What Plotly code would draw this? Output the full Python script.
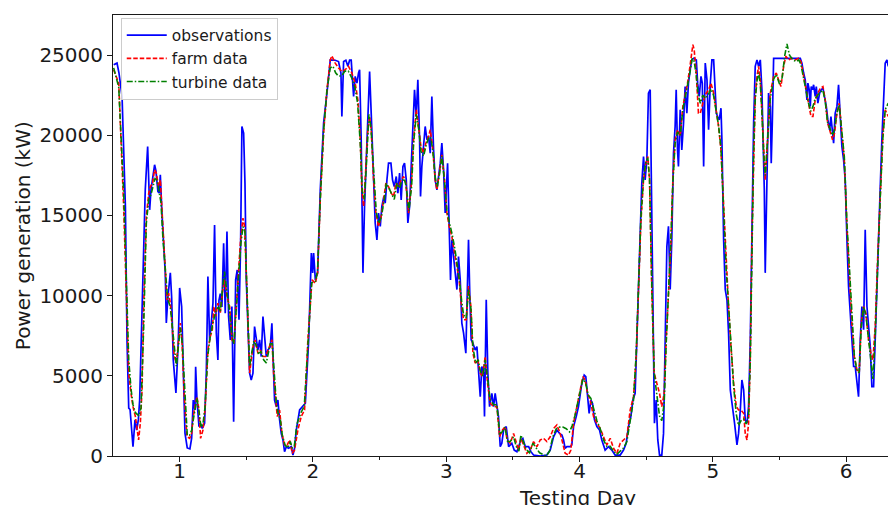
import plotly.graph_objects as go

# ---------------- data ----------------
obs_x = [0.505, 0.53, 0.545, 0.568, 0.593, 0.605, 0.618, 0.628, 0.650, 0.665, 0.678, 0.69, 0.70, 0.73, 0.742,
         0.76, 0.775, 0.785, 0.80, 0.812, 0.822, 0.837, 0.847, 0.855, 0.867, 0.88, 0.892, 0.90, 0.912, 0.93,
         0.94, 0.952, 0.972, 0.99, 1.0, 1.015, 1.027, 1.04, 1.057, 1.077, 1.09, 1.102, 1.115, 1.12, 1.13,
         1.145, 1.155, 1.17, 1.187, 1.2, 1.212, 1.225, 1.237, 1.25, 1.262, 1.275, 1.287, 1.295, 1.305, 1.317,
         1.33, 1.342, 1.355, 1.367, 1.38, 1.392, 1.405, 1.42, 1.432, 1.445, 1.457, 1.467, 1.48, 1.49, 1.5,
         1.512, 1.525, 1.537, 1.55, 1.562, 1.575, 1.587, 1.6, 1.612, 1.625, 1.637, 1.65, 1.662, 1.68, 1.692,
         1.7, 1.712, 1.725, 1.737, 1.75, 1.762, 1.775, 1.787, 1.80, 1.817, 1.837, 1.85, 1.862, 1.875, 1.9,
         1.925, 1.943, 1.968, 1.988, 1.998, 2.005, 2.018, 2.035, 2.055, 2.08, 2.105, 2.13, 2.167, 2.192, 2.21,
         2.217, 2.23, 2.247, 2.262, 2.275, 2.287, 2.305, 2.317, 2.33, 2.342, 2.35, 2.362, 2.375, 2.387, 2.405,
         2.425, 2.437, 2.45, 2.467, 2.48, 2.492, 2.505, 2.517, 2.532, 2.542, 2.555, 2.567, 2.585, 2.597, 2.61,
         2.625, 2.637, 2.65, 2.662, 2.675, 2.687, 2.7, 2.712, 2.725, 2.737, 2.75, 2.762, 2.775, 2.787, 2.8,
         2.807, 2.817, 2.83, 2.842, 2.855, 2.867, 2.88, 2.892, 2.905, 2.917, 2.93, 2.942, 2.955, 2.967, 2.98,
         2.992, 3.01, 3.022, 3.032, 3.042, 3.055, 3.067, 3.08, 3.092, 3.105, 3.117, 3.13, 3.147, 3.16, 3.167,
         3.177, 3.187, 3.2, 3.217, 3.23, 3.242, 3.255, 3.267, 3.28, 3.287, 3.3, 3.312, 3.325, 3.342, 3.355,
         3.367, 3.38, 3.392, 3.405, 3.417, 3.43, 3.45, 3.468, 3.492, 3.51, 3.53, 3.543, 3.56, 3.575, 3.593,
         3.618, 3.635, 3.655, 3.705, 3.755, 3.78, 3.805, 3.83, 3.85, 3.868, 3.88, 3.892, 3.905, 3.93, 3.942,
         3.955, 3.975, 3.992, 4.017, 4.035, 4.047, 4.06, 4.072, 4.085, 4.097, 4.112, 4.13, 4.15, 4.167, 4.192,
         4.217, 4.242, 4.267, 4.305, 4.33, 4.35, 4.367, 4.385, 4.4, 4.417, 4.43, 4.442, 4.455, 4.467, 4.48,
         4.492, 4.505, 4.517, 4.53, 4.542, 4.555, 4.562, 4.575, 4.587, 4.6, 4.617, 4.63, 4.642, 4.655, 4.667,
         4.68, 4.692, 4.705, 4.717, 4.725, 4.735, 4.742, 4.755, 4.767, 4.78, 4.792, 4.805, 4.817, 4.83, 4.842,
         4.856, 4.876, 4.886, 4.898, 4.911, 4.921, 4.931, 4.943, 4.956, 4.968, 4.981, 4.993, 5.006, 5.013, 5.026,
         5.036, 5.048, 5.061, 5.068, 5.081, 5.093, 5.106, 5.118, 5.131, 5.148, 5.163, 5.181, 5.193, 5.206, 5.218,
         5.231, 5.243, 5.256, 5.268, 5.281, 5.293, 5.306, 5.318, 5.331, 5.343, 5.356, 5.368, 5.376, 5.386, 5.393,
         5.406, 5.418, 5.431, 5.438, 5.446, 5.456, 5.656, 5.668, 5.681, 5.693, 5.706, 5.713, 5.723, 5.731, 5.738,
         5.748, 5.756, 5.768, 5.776, 5.788, 5.801, 5.813, 5.826, 5.838, 5.851, 5.863, 5.876, 5.886, 5.898, 5.906,
         5.918, 5.931, 5.943, 5.956, 5.968, 5.981, 5.993, 6.006, 6.018, 6.031, 6.043, 6.056, 6.068, 6.081, 6.093,
         6.106, 6.118, 6.131, 6.143, 6.156, 6.168, 6.181, 6.193, 6.206, 6.218, 6.231, 6.243, 6.256, 6.268, 6.281,
         6.293, 6.306, 6.316]
obs_y = [24400, 24500, 23880, 22420, 15560, 7240, 2990, 2900, 580, 2250, 1620, 2250, 3490, 13480, 16600,
         19300, 15350, 16600, 17430, 18160, 17800, 16490, 16400, 17530, 15160, 12660, 11420, 8300, 9920, 11420,
         9900, 5990, 3930, 7240, 10480, 9320, 5170, 1430, 500, 440, 1120, 3490, 2870, 5570, 3490,
         1830, 2040, 1720, 2040, 5170, 11190, 7240, 8280, 9530, 14410, 7660, 5990, 9700, 10120, 9300,
         13270, 8900, 14000, 8700, 7240, 9320, 2140, 10980, 11600, 8500, 13060, 20550, 20130, 17030, 10980,
         7660, 5170, 4740, 5170, 8070, 7240, 6610, 7240, 6200, 8700, 7450, 6200, 6610, 6820, 8280,
         5990, 3490, 3080, 3490, 2250, 1410, 1000, 270, 580, 480, 580, 60, 480, 1620, 2870,
         3080, 3290, 7240, 12660, 11420, 12660, 10980, 11420, 16600, 20760, 22620, 24700, 24680, 24600, 23880,
         21170, 24600, 24680, 24300, 24680, 24680, 22420, 23670, 23250, 23880, 24090, 19720, 11420, 15560, 19720,
         23980, 21380, 18050, 14530, 13480, 15150, 14320, 15560, 16180, 15770, 17220, 18260, 18260, 17220, 16800,
         17430, 16390, 17640, 15970, 18050, 18260, 17220, 14530, 15560, 18050, 20140, 22840, 21170, 23460, 19720,
         16180, 18050, 19720, 20550, 19720, 19930, 18880, 22420, 19090, 17220, 16600, 17430, 18260, 19510, 17840,
         15150, 18260, 14320, 10980, 13480, 12440, 11420, 10380, 12440, 10980, 8290, 7660, 6410, 10980, 13480,
         9960, 7240, 7030, 6610, 6820, 5580, 3700, 5580, 5170, 2460, 9740, 5170, 3080, 3910, 3080,
         3910, 3290, 2460, 580, 790, 1620, 1830, 580, 790, 370, 270, 580, 1000, 1100, 580,
         580, 270, 60, 0, 60, 370, 1200, 1620, 1410, 1310, 1000, 480, 580, 580, 690,
         1830, 2460, 3080, 4530, 5050, 4950, 3910, 2660, 3490, 3290, 2250, 1830, 1620, 1000, 370,
         580, 370, 60, 60, 370, 790, 1830, 2460, 3490, 3910, 7240, 11420, 14930, 17010, 18680,
         17220, 18470, 22630, 22840, 15560, 5170, 2040, 3490, 1000, 60, 60, 1410, 7240, 13060, 14320,
         10380, 13480, 18890, 20550, 22840, 19090, 18050, 21590, 19090, 20760, 23040, 21380, 23250, 24090, 24700,
         24800, 24700, 23250, 22420, 23670, 23250, 18050, 24500, 23460, 20340, 23250, 24700, 24700, 23460, 21380,
         21170, 20960, 21690, 19720, 13480, 10380, 9740, 7660, 4120, 3080, 2040, 690, 1410, 2870, 4740,
         4120, 2250, 2040, 3080, 7240, 15560, 20760, 24300, 24700, 24300, 24700, 22840, 19720, 16600, 11420,
         17640, 22630, 21800, 18260, 20760, 24800, 24800, 24500, 23880, 23460, 22210, 23250, 22840, 21800, 23040,
         22840, 23150, 22420, 23040, 22000, 22630, 22840, 22940, 22420, 21800, 20960, 20340, 21170, 20130, 19510,
         21380, 21800, 23150, 20760, 19300, 18470, 17220, 13480, 10590, 8910, 7240, 5580, 5580, 4740, 3700,
         7240, 9320, 7870, 14110, 9320, 8290, 6820, 4320, 4320, 7240, 10980, 14320, 16800, 19720, 22840,
         24500, 24700, 24300]

farm_x = [0.505, 0.543, 0.58, 0.60, 0.618, 0.635, 0.65, 0.668, 0.68, 0.692, 0.705, 0.718, 0.73, 0.75, 0.768,
          0.78, 0.797, 0.812, 0.825, 0.842, 0.855, 0.867, 0.88, 0.892, 0.905, 0.917, 0.93, 0.942, 0.96, 0.975,
          0.992, 1.005, 1.017, 1.035, 1.055, 1.075, 1.09, 1.102, 1.115, 1.13, 1.145, 1.157, 1.175, 1.192, 1.212,
          1.23, 1.245, 1.257, 1.27, 1.287, 1.305, 1.32, 1.337, 1.355, 1.375, 1.392, 1.407, 1.425, 1.445, 1.457,
          1.475, 1.487, 1.5, 1.512, 1.525, 1.537, 1.55, 1.567, 1.587, 1.605, 1.625, 1.645, 1.662, 1.68, 1.692,
          1.705, 1.72, 1.732, 1.75, 1.767, 1.787, 1.807, 1.825, 1.845, 1.862, 1.887, 1.912, 1.937, 1.962, 1.993,
          2.018, 2.035, 2.055, 2.08, 2.105, 2.13, 2.142, 2.167, 2.192, 2.217, 2.242, 2.267, 2.292, 2.317, 2.337,
          2.355, 2.367, 2.38, 2.392, 2.41, 2.425, 2.437, 2.455, 2.472, 2.492, 2.512, 2.53, 2.547, 2.567, 2.587,
          2.605, 2.622, 2.642, 2.662, 2.68, 2.697, 2.717, 2.737, 2.755, 2.775, 2.792, 2.81, 2.83, 2.847, 2.867,
          2.88, 2.897, 2.917, 2.93, 2.95, 2.967, 2.987, 3.005, 3.022, 3.042, 3.062, 3.082, 3.097, 3.112, 3.13,
          3.15, 3.167, 3.185, 3.2, 3.217, 3.237, 3.255, 3.272, 3.292, 3.31, 3.33, 3.355, 3.38, 3.4, 3.422,
          3.442, 3.456, 3.48, 3.505, 3.525, 3.543, 3.56, 3.58, 3.605, 3.63, 3.655, 3.68, 3.705, 3.73, 3.755,
          3.78, 3.805, 3.83, 3.85, 3.868, 3.892, 3.917, 3.935, 3.955, 3.98, 4.005, 4.025, 4.042, 4.06, 4.08,
          4.105, 4.13, 4.155, 4.18, 4.205, 4.23, 4.255, 4.28, 4.305, 4.33, 4.355, 4.38, 4.405, 4.425, 4.442,
          4.46, 4.48, 4.497, 4.512, 4.525, 4.542, 4.56, 4.58, 4.6, 4.617, 4.635, 4.65, 4.667, 4.685, 4.7,
          4.717, 4.735, 4.755, 4.775, 4.792, 4.81, 4.825, 4.842, 4.85, 4.86, 4.875, 4.892, 4.906, 4.925, 4.943,
          4.968, 4.986, 5.006, 5.026, 5.043, 5.061, 5.081, 5.101, 5.118, 5.136, 5.156, 5.176, 5.193, 5.211, 5.231,
          5.243, 5.256, 5.268, 5.281, 5.293, 5.306, 5.318, 5.331, 5.343, 5.356, 5.368, 5.381, 5.393, 5.411, 5.431,
          5.456, 5.476, 5.493, 5.511, 5.531, 5.548, 5.568, 5.593, 5.618, 5.643, 5.661, 5.681, 5.701, 5.718, 5.736,
          5.751, 5.768, 5.788, 5.806, 5.826, 5.843, 5.861, 5.881, 5.898, 5.913, 5.931, 5.948, 5.968, 5.986, 6.006,
          6.026, 6.043, 6.061, 6.081, 6.098, 6.113, 6.131, 6.148, 6.168, 6.186, 6.201, 6.218, 6.236, 6.256, 6.276,
          6.293, 6.316]
farm_y = [24090, 23250, 15560, 9320, 5170, 3910, 3080, 2460, 1830, 1000, 2040, 4120, 9320, 14930, 16390,
          16800, 17010, 17840, 17640, 16800, 17220, 15560, 13060, 11420, 9740, 10150, 9530, 8290, 6200, 5790,
          7240, 8290, 7240, 3700, 1200, 1100, 1410, 2460, 3080, 3700, 2870, 1100, 1620, 3080, 6610,
          7450, 7870, 9320, 8700, 9530, 8910, 10150, 10980, 9950, 9320, 7240, 7030, 9320, 11420, 13480,
          14830, 14320, 11420, 7660, 5170, 5990, 6820, 7240, 6410, 6610, 6200, 6200, 6610, 7030, 7240,
          5170, 3490, 2460, 2870, 1410, 690, 690, 1000, 170, 370, 1620, 2460, 2870, 7240, 10980,
          10770, 11420, 15970, 20130, 22840, 24700, 24950, 24500, 24200, 23980, 24090, 24300, 23880, 23250, 22210,
          19720, 16600, 15560, 17220, 20130, 21170, 20340, 17220, 15150, 14320, 14930, 15970, 17010, 16800, 16390,
          16180, 17010, 16800, 17220, 17430, 17010, 15150, 16800, 19720, 21590, 20550, 19300, 18880, 19510, 19930,
          20340, 19300, 17220, 16600, 17840, 18780, 17220, 15150, 14320, 13690, 12660, 11830, 10980, 9530, 8500,
          8500, 10590, 9320, 6410, 5790, 5990, 5170, 4950, 6200, 4530, 3290, 3080, 3080, 1200, 1620,
          1830, 1000, 790, 1410, 790, 370, 1100, 690, 170, 370, 900, 580, 1000, 1100, 900,
          1200, 1720, 1930, 1520, 1000, 170, 60, 370, 2040, 3080, 4120, 4950, 4740, 3910, 3490,
          2460, 2040, 1720, 1200, 690, 1100, 480, 170, 790, 1000, 1200, 2870, 3700, 6200, 10380,
          14530, 17220, 18260, 18680, 17220, 10380, 5170, 4530, 3910, 3080, 3910, 7240, 9950, 13060, 17220,
          19720, 20340, 19930, 21800, 22420, 23250, 24090, 25340, 25650, 25340, 23880, 21380, 21380, 22000, 22530,
          22840, 23250, 22630, 21590, 20550, 19090, 15560, 11420, 9320, 6820, 4530, 3080, 2870, 2870, 2660,
          1410, 1000, 2040, 6200, 13480, 19090, 22420, 23670, 24300, 23460, 21800, 19300, 17220, 19930, 22630,
          23670, 23880, 23460, 23040, 24300, 24930, 24700, 24800, 24700, 24800, 24600, 23670, 22630, 21800, 21170,
          21170, 22210, 22630, 22940, 23040, 22210, 20760, 20130, 19720, 20130, 21380, 22000, 20130, 18470, 14320,
          10980, 8290, 6200, 5370, 5170, 8290, 9320, 8910, 7240, 6410, 5990, 8080, 12240, 16390, 20130,
          21590, 21170]

turb_x = [0.505, 0.543, 0.58, 0.60, 0.618, 0.635, 0.65, 0.668, 0.68, 0.695, 0.71, 0.73, 0.75, 0.768, 0.785,
          0.80, 0.815, 0.83, 0.845, 0.86, 0.875, 0.892, 0.91, 0.93, 0.945, 0.96, 0.975, 0.99, 1.005, 1.02,
          1.04, 1.057, 1.075, 1.09, 1.105, 1.12, 1.13, 1.145, 1.16, 1.175, 1.19, 1.21, 1.23, 1.25, 1.27,
          1.29, 1.305, 1.32, 1.337, 1.355, 1.375, 1.392, 1.407, 1.425, 1.445, 1.46, 1.475, 1.49, 1.5, 1.512,
          1.525, 1.54, 1.555, 1.57, 1.59, 1.61, 1.63, 1.65, 1.665, 1.68, 1.695, 1.71, 1.725, 1.74, 1.755,
          1.77, 1.79, 1.81, 1.83, 1.845, 1.86, 1.88, 1.91, 1.935, 1.96, 1.99, 2.02, 2.035, 2.055, 2.08,
          2.105, 2.13, 2.15, 2.17, 2.19, 2.215, 2.24, 2.265, 2.29, 2.315, 2.335, 2.355, 2.37, 2.385, 2.4,
          2.42, 2.435, 2.455, 2.475, 2.495, 2.515, 2.535, 2.55, 2.57, 2.59, 2.61, 2.63, 2.65, 2.665, 2.685,
          2.7, 2.72, 2.74, 2.755, 2.775, 2.795, 2.81, 2.83, 2.85, 2.87, 2.885, 2.9, 2.917, 2.932, 2.95,
          2.967, 2.985, 3.005, 3.022, 3.045, 3.065, 3.085, 3.1, 3.115, 3.13, 3.15, 3.168, 3.185, 3.2, 3.22,
          3.24, 3.255, 3.275, 3.292, 3.31, 3.33, 3.355, 3.38, 3.4, 3.42, 3.44, 3.46, 3.48, 3.505, 3.525,
          3.545, 3.56, 3.58, 3.6, 3.625, 3.65, 3.675, 3.7, 3.725, 3.75, 3.775, 3.8, 3.825, 3.85, 3.875,
          3.9, 3.925, 3.945, 3.965, 3.985, 4.005, 4.025, 4.045, 4.065, 4.085, 4.105, 4.13, 4.155, 4.18, 4.205,
          4.23, 4.255, 4.28, 4.305, 4.33, 4.355, 4.38, 4.405, 4.425, 4.442, 4.46, 4.48, 4.497, 4.512, 4.525,
          4.542, 4.56, 4.58, 4.6, 4.617, 4.635, 4.65, 4.667, 4.685, 4.7, 4.717, 4.735, 4.755, 4.775, 4.792,
          4.81, 4.83, 4.845, 4.86, 4.875, 4.89, 4.906, 4.925, 4.943, 4.965, 4.985, 5.005, 5.025, 5.043, 5.061,
          5.081, 5.1, 5.118, 5.136, 5.156, 5.176, 5.193, 5.211, 5.231, 5.25, 5.268, 5.281, 5.293, 5.306, 5.318,
          5.331, 5.343, 5.356, 5.368, 5.381, 5.393, 5.411, 5.431, 5.456, 5.476, 5.5, 5.52, 5.54, 5.556, 5.575,
          5.6, 5.625, 5.645, 5.661, 5.681, 5.701, 5.718, 5.736, 5.751, 5.768, 5.788, 5.806, 5.826, 5.843, 5.861,
          5.881, 5.898, 5.913, 5.931, 5.948, 5.968, 5.986, 6.006, 6.026, 6.043, 6.061, 6.081, 6.098, 6.113, 6.131,
          6.148, 6.168, 6.186, 6.201, 6.218, 6.236, 6.256, 6.276, 6.293, 6.316]
turb_y = [24200, 23000, 16500, 10500, 6000, 4200, 3200, 2700, 2600, 2500, 3000, 8000, 14500, 16000, 16300,
          16800, 17300, 17200, 16500, 15800, 13500, 11500, 9800, 9300, 8000, 6500, 5600, 6800, 8000, 7000,
          3500, 1300, 1300, 1600, 2400, 3300, 3600, 2800, 1800, 2000, 3000, 6200, 7500, 8300, 9000,
          9300, 9000, 10300, 11500, 10200, 9000, 7500, 7000, 9200, 11500, 13300, 14300, 14000, 11500, 7900,
          5600, 6400, 7100, 7000, 6400, 6500, 6000, 5800, 6500, 7000, 7000, 5000, 3300, 2600, 2300,
          1300, 700, 500, 900, 500, 600, 2000, 2700, 3100, 7000, 10800, 10900, 11600, 16000, 20300,
          22800, 24200, 24300, 23900, 23700, 23700, 24000, 24000, 23600, 23000, 22000, 19500, 16500, 16000, 18000,
          21300, 20500, 17500, 15200, 14500, 15000, 16000, 17000, 16700, 16300, 16000, 17000, 16700, 17100, 17300,
          16800, 15300, 16800, 19500, 21300, 20300, 19000, 18700, 19400, 19900, 19800, 19000, 17400, 16800, 17600,
          18700, 17300, 15300, 14600, 13800, 12900, 11800, 10900, 9700, 8800, 8600, 10400, 9200, 6800, 5800,
          6000, 5300, 5000, 6000, 4700, 3500, 3200, 3200, 1400, 1500, 1800, 900, 900, 1200, 600,
          300, 1300, 900, 400, 200, 800, 500, 200, 100, 0, 300, 1200, 1700, 1800, 1800,
          1700, 1500, 1900, 2500, 3300, 4200, 4800, 4600, 3800, 3600, 3000, 2200, 1700, 1000, 600,
          600, 300, 100, 300, 500, 900, 2300, 3500, 6400, 10800, 14800, 17400, 18300, 18600, 17300,
          10700, 5200, 3800, 2500, 2200, 3300, 7000, 10000, 13500, 17000, 19500, 20200, 20000, 21600, 22300,
          23100, 24000, 24800, 24600, 23800, 22500, 22000, 22500, 22300, 22500, 22900, 22500, 21500, 20600, 19200,
          15600, 11600, 9400, 6900, 4300, 2600, 1900, 2200, 2300, 2000, 2500, 6000, 13000, 19000, 22200,
          23400, 23900, 23200, 21500, 18800, 17500, 19500, 22300, 23500, 23800, 23200, 23600, 25000, 25700, 25000,
          24700, 24600, 24700, 24400, 23500, 22600, 22000, 21500, 21800, 22300, 22500, 22700, 22800, 22100, 20800,
          20300, 20000, 20400, 21400, 21900, 20300, 18700, 14500, 11200, 8600, 6300, 5300, 5200, 8000, 9300,
          8800, 7200, 5800, 4800, 7500, 11800, 16200, 19900, 21600, 22000]

series_names = ["observations", "farm data", "turbine data"]
y_tick_vals = [0, 5000, 10000, 15000, 20000, 25000]
x_tick_vals = [1, 2, 3, 4, 5, 6]
x_minor_vals = [1.5, 2.5, 3.5, 4.5, 5.5]
x_label = "Testing Day"
y_label = "Power generation (kW)"

# ---------------- figure ----------------
FONT = "DejaVu Sans"
INK = "#1a1a1a"
fig = go.Figure()
fig.add_trace(go.Scatter(x=obs_x, y=obs_y, mode="lines", name=series_names[0],
                         line=dict(color="#0000ff", width=1.7)))
fig.add_trace(go.Scatter(x=farm_x, y=farm_y, mode="lines", name=series_names[1],
                         line=dict(color="#ff0000", width=1.6, dash="4.5px,2px")))
fig.add_trace(go.Scatter(x=turb_x, y=turb_y, mode="lines", name=series_names[2],
                         line=dict(color="#008000", width=1.6, dash="6px,2px,1.5px,2px")))

fig.update_layout(
    width=888, height=505,
    margin=dict(l=113, r=0, t=15, b=49),
    paper_bgcolor="white", plot_bgcolor="white",
    font=dict(family=FONT, size=20, color=INK),
    showlegend=True,
    legend=dict(x=0.010, y=0.994, xanchor="left", yanchor="top",
                bgcolor="rgba(255,255,255,0.85)", bordercolor="#cccccc", borderwidth=1,
                font=dict(family=FONT, size=15.5, color=INK),
                tracegroupgap=0, itemwidth=40),
    xaxis=dict(range=[0.5, 6.314], tickmode="array", tickvals=x_tick_vals,
               ticks="outside", ticklen=5, tickwidth=1, tickcolor=INK,
               ticklabelstandoff=-8,
               showline=True, linecolor=INK, linewidth=1, mirror=True,
               showgrid=False, zeroline=False,
               tickfont=dict(family=FONT, size=20, color=INK),
               minor=dict(tickmode="array", tickvals=x_minor_vals,
                          ticks="outside", ticklen=3, tickwidth=0.8, tickcolor=INK)),
    yaxis=dict(range=[0, 27500], tickmode="array", tickvals=y_tick_vals, tickformat="d",
               ticks="outside", ticklen=5, tickwidth=1, tickcolor=INK,
               showline=True, linecolor=INK, linewidth=1,
               showgrid=False, zeroline=False,
               tickfont=dict(family=FONT, size=20, color=INK)),
    annotations=[
        dict(text=x_label, xref="paper", yref="paper", x=0.599, y=-0.063,
             xanchor="center", yanchor="top", showarrow=False,
             font=dict(family=FONT, size=20, color=INK)),
        dict(text=y_label, xref="paper", yref="paper", x=-0.1165, y=0.5,
             xanchor="center", yanchor="middle", textangle=-90, showarrow=False,
             font=dict(family=FONT, size=20, color=INK)),
    ],
)

fig.write_html("out.html")
